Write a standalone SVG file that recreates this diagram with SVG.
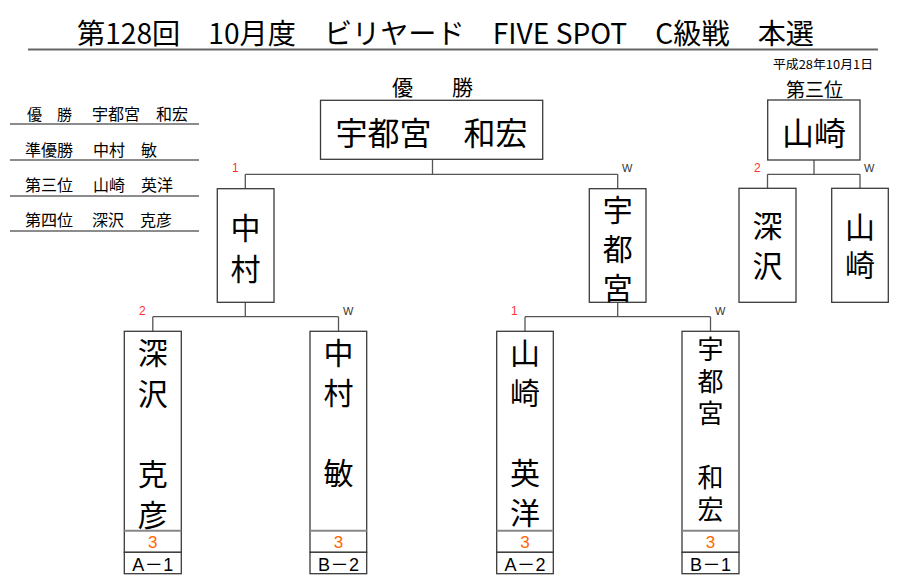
<svg xmlns="http://www.w3.org/2000/svg" width="900" height="587" viewBox="0 0 900 587">
<style>
.bg{fill:#fff}
.box{fill:#fff;stroke:#3a3a3a;stroke-width:1.3}
.conn{fill:none;stroke:#555;stroke-width:1.3}
.rule{stroke:#666;stroke-width:1.3}
.sep{stroke:#888;stroke-width:2}
.t{font-family:'Noto Sans CJK JP',sans-serif;fill:#000}
.name{font-family:'Noto Sans CJK JP',sans-serif;fill:#000;text-anchor:middle}
.v{font-family:'Noto Sans CJK JP',sans-serif;fill:#000;writing-mode:vertical-rl;text-orientation:upright}
.red{font-family:'Liberation Sans',sans-serif;font-size:12px;fill:#f33}
.w{font-family:'Liberation Sans',sans-serif;font-size:11px;fill:#333}
.score{font-family:'Liberation Sans',sans-serif;font-size:17px;fill:#f60;text-anchor:middle}
.lab{font-family:'Liberation Sans','Noto Sans CJK JP',sans-serif;font-size:18px;fill:#000;text-anchor:middle}
</style>
<rect class="bg" x="0" y="0" width="900" height="587"/>
<g id="title">
<text class="t" x="77" y="44" font-size="28" textLength="737" lengthAdjust="spacingAndGlyphs">第128回　10月度　ビリヤード　FIVE SPOT　C級戦　本選</text>
<line x1="28" y1="49.5" x2="878" y2="49.5" stroke="#666" stroke-width="2"/>
<text class="t" x="773" y="69" font-size="12" textLength="100" lengthAdjust="spacingAndGlyphs">平成28年10月1日</text>
</g>
<g id="results">
<text class="t" x="27" y="120" font-size="15">優</text>
<text class="t" x="57" y="120" font-size="15">勝</text>
<text class="t" x="92" y="120" font-size="16">宇都宮　和宏</text>
<line class="rule" x1="10" y1="124" x2="199" y2="124"/>
<text class="t" x="25" y="156" font-size="16">準優勝</text>
<text class="t" x="93" y="156" font-size="16">中村　敏</text>
<line class="rule" x1="10" y1="160" x2="199" y2="160"/>
<text class="t" x="25" y="191" font-size="16">第三位</text>
<text class="t" x="93" y="191" font-size="16">山崎　英洋</text>
<line class="rule" x1="10" y1="196" x2="199" y2="196"/>
<text class="t" x="25" y="226" font-size="16">第四位</text>
<text class="t" x="92" y="226" font-size="16">深沢　克彦</text>
<line class="rule" x1="10" y1="231" x2="199" y2="231"/>
</g>
<g id="connectors">
<path class="conn" d="M432.5,159.3V174.3M245.3,174.3H617.7M245.3,174.3V188.7M617.7,174.3V188.7"/>
<path class="conn" d="M245.3,302.3V316.7M152.8,316.7H338.5M152.8,316.7V331.3M338.5,316.7V331.3"/>
<path class="conn" d="M617.7,302.3V316.7M525,316.7H710.5M525,316.7V331.3M710.5,316.7V331.3"/>
<path class="conn" d="M814,160V174.3M767.5,174.3H860M767.5,174.3V188.3M860,174.3V188.3"/>
<text class="red" x="232" y="172">1</text>
<text class="w" x="622" y="172">W</text>
<text class="red" x="139" y="315">2</text>
<text class="w" x="343" y="315">W</text>
<text class="red" x="511" y="315">1</text>
<text class="w" x="715" y="315">W</text>
<text class="red" x="754" y="172">2</text>
<text class="w" x="864" y="172">W</text>
</g>
<g id="champion">
<text class="t" x="392" y="95" font-size="21">優</text>
<text class="t" x="452" y="95" font-size="21">勝</text>
<rect class="box" x="320.5" y="100.3" width="222.2" height="59"/>
<text class="name" x="431.5" y="145" font-size="32">宇都宮　和宏</text>
</g>
<g id="third">
<text class="t" x="786" y="97" font-size="19">第三位</text>
<rect class="box" x="767.7" y="100" width="92.3" height="60"/>
<text class="name" x="814" y="145" font-size="32">山崎</text>
</g>
<g id="semi-nakamura">
<rect class="box" x="217.3" y="188.7" width="56.7" height="113.6"/>
<text class="v" x="245.6" y="213" font-size="30" letter-spacing="11">中村</text>
</g>
<g id="semi-utsunomiya">
<rect class="box" x="589.3" y="188.7" width="56.7" height="113.6"/>
<text class="v" x="617.7" y="195" font-size="30" letter-spacing="9">宇都宮</text>
</g>
<g id="third-fukasawa">
<rect class="box" x="739" y="188.3" width="57" height="114"/>
<text class="v" x="767.5" y="211" font-size="30" letter-spacing="10">深沢</text>
</g>
<g id="third-yamazaki">
<rect class="box" x="831.7" y="188.3" width="56.6" height="114"/>
<text class="v" x="860" y="212" font-size="30" letter-spacing="8">山崎</text>
</g>
<g id="a1">
<rect class="box" x="124.3" y="331.3" width="57" height="221"/>
<line class="sep" x1="124.3" y1="530.7" x2="181.3" y2="530.7"/>
<rect class="box" x="124.3" y="552.3" width="57" height="21.4"/>
<text class="v" x="152.8" y="338" font-size="30" letter-spacing="10.3">深沢　克彦</text>
<text class="score" x="152.8" y="548">3</text>
<text class="lab" x="152.8" y="570.5" textLength="41" lengthAdjust="spacing">A－1</text>
</g>
<g id="b2">
<rect class="box" x="310" y="331.3" width="56.7" height="221"/>
<line class="sep" x1="310" y1="530.7" x2="366.7" y2="530.7"/>
<rect class="box" x="310" y="552.3" width="56.7" height="21.4"/>
<text class="v" x="338.4" y="338" font-size="30" letter-spacing="10">中村　敏</text>
<text class="score" x="338.4" y="548">3</text>
<text class="lab" x="338.4" y="570.5" textLength="41" lengthAdjust="spacing">B－2</text>
</g>
<g id="a2">
<rect class="box" x="496.7" y="331.3" width="56.6" height="221"/>
<line class="sep" x1="496.7" y1="530.7" x2="553.3" y2="530.7"/>
<rect class="box" x="496.7" y="552.3" width="56.6" height="21.4"/>
<text class="v" x="525" y="338" font-size="30" letter-spacing="10">山崎　英洋</text>
<text class="score" x="525" y="548">3</text>
<text class="lab" x="525" y="570.5" textLength="41" lengthAdjust="spacing">A－2</text>
</g>
<g id="b1">
<rect class="box" x="682" y="331.3" width="57" height="221"/>
<line class="sep" x1="682" y1="530.7" x2="739" y2="530.7"/>
<rect class="box" x="682" y="552.3" width="57" height="21.4"/>
<text class="v" x="710.5" y="336" font-size="26" letter-spacing="6">宇都宮　和宏</text>
<text class="score" x="710.5" y="548">3</text>
<text class="lab" x="710.5" y="570.5" textLength="41" lengthAdjust="spacing">B－1</text>
</g>
</svg>
